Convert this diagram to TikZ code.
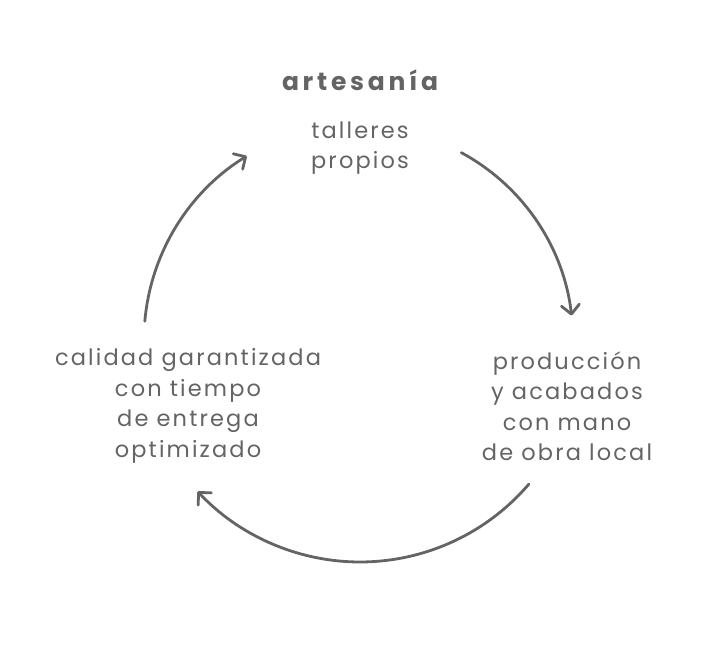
\documentclass[tikz,border=0pt]{standalone}
\usepackage{fontspec}
\setmainfont{Poppins}
\newfontfamily\lblfont[LetterSpace=9.5]{Poppins}
\newfontfamily\ttlfont[LetterSpace=15]{Poppins}
\usetikzlibrary{arrows.meta,calc}
\definecolor{ink}{HTML}{646464}
\begin{document}
\begin{tikzpicture}[x=1pt,y=1pt,
  lbl/.style={align=center,text=ink,font=\lblfont\fontsize{22.5}{30.5}\selectfont,inner sep=0pt},
  ttl/.style={text=ink,font=\ttlfont\fontsize{25}{28}\selectfont\bfseries,inner sep=0pt},
  cyc/.style={draw=ink,line width=2.8pt,line cap=round,
    -{Straight Barb[length=9pt,width=18pt,line width=2.8pt,round]}}]
\useasboundingbox (0,0) rectangle (720,650);
\coordinate (c) at (360,310);
\node[ttl] (title) at (360,570) {artesanía};
\node[lbl] (top) at (360,502) {talleres\\propios};
\node[lbl] (right) at (567,244) {producción\\y acabados\\con mano\\de obra local};
\node[lbl] (left) at (188,244) {calidad garantizada\\con tiempo\\de entrega\\optimizado};
\coordinate (s1) at ($(c)+(61.6:213)$);
\coordinate (s2) at ($(c)+(-40.5:222)$);
\coordinate (s3) at ($(c)+(175:216)$);
\draw[cyc] (s1) arc[start angle=61.6,end angle=6.6,radius=213];
\draw[cyc] (s2) arc[start angle=-40.5,end angle=-137,radius=222];
\draw[cyc] (s3) arc[start angle=175,end angle=121.6,radius=216];
\end{tikzpicture}
\end{document}
